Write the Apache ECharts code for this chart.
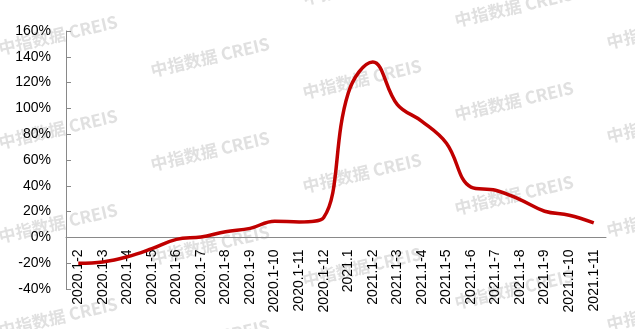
<!DOCTYPE html>
<html>
<head>
<meta charset="utf-8">
<script src="https://cdn.jsdelivr.net/npm/echarts@6/dist/echarts.min.js"></script>
<style>
html,body{margin:0;padding:0;background:#fff;}
#c{width:635px;height:329px;}
</style>
</head>
<body>
<div id="c"></div>
<script>
var categories = ['2020.1-2','2020.1-3','2020.1-4','2020.1-5','2020.1-6','2020.1-7','2020.1-8','2020.1-9','2020.1-10','2020.1-11','2020.1-12',
  '2021.1','2021.1-2','2021.1-3','2021.1-4','2021.1-5','2021.1-6','2021.1-7','2021.1-8','2021.1-9','2021.1-10','2021.1-11'];
var growth = [-20, -19, -15, -8.7, -1.5, 0.3, 4.4, 7, 12.6, 12, 15.5,
  112, 136, 103, 90, 73, 39, 36.6, 29.3, 20.3, 17.2, 11.3];
var yTicks = {min: -40, max: 160, interval: 20};
var watermarkText = '中指数据 CREIS';

var chart = echarts.init(document.getElementById('c'));
var marks = [];
for (var k = -2; k <= 4; k++) {
  for (var m = -2; m <= 4; m++) {
    var cx = 210 + 152 * k, cy = 57 + 22 * k + 94 * m;
    if (cx < -80 || cx > 720 || cy < -30 || cy > 360) continue;
    marks.push({
      type: 'text', x: cx, y: cy, rotation: 13 * Math.PI / 180, z: 0, silent: true,
      style: {text: watermarkText, fill: '#e0e0e0', font: 'bold 17px "Noto Sans CJK SC", sans-serif', align: 'center', verticalAlign: 'middle'}
    });
  }
}
var gridTop = 31, gridH = 258;
var zeroOffset = -gridH * (0 - yTicks.min) / (yTicks.max - yTicks.min);
chart.setOption({
  animation: false,
  backgroundColor: '#fff',
  graphic: marks,
  grid: {left: 66, right: 29, top: gridTop, height: gridH, containLabel: false, outerBoundsMode: 'none'},
  xAxis: {
    type: 'category', data: categories, boundaryGap: true, offset: zeroOffset,
    axisLine: {onZero: false, lineStyle: {color: '#898989', width: 1}},
    axisTick: {inside: true, length: 4, alignWithLabel: false, lineStyle: {color: '#898989'}},
    axisLabel: {rotate: 90, interval: 0, margin: 12, color: '#000', fontSize: 14, fontFamily: 'Liberation Sans'},
    splitLine: {show: false}
  },
  yAxis: {
    type: 'value', min: yTicks.min, max: yTicks.max, interval: yTicks.interval,
    axisLine: {show: true, lineStyle: {color: '#898989', width: 1}},
    axisTick: {show: true, inside: true, length: 5, lineStyle: {color: '#898989'}},
    axisLabel: {formatter: '{value}%', margin: 15, color: '#000', fontSize: 14, fontFamily: 'Liberation Sans'},
    splitLine: {show: false}
  },
  series: [{
    type: 'line', data: growth, smooth: 0.4, showSymbol: false, z: 5,
    lineStyle: {color: '#c00000', width: 3.5},
    itemStyle: {color: '#c00000'}
  }]
});
</script>
</body>
</html>
